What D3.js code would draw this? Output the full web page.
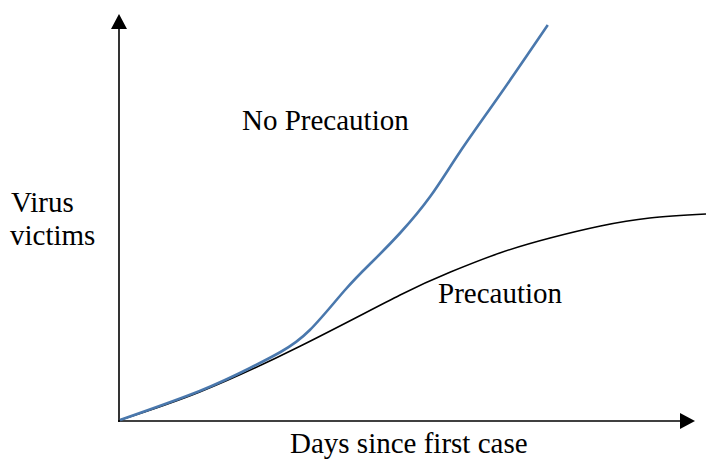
<!DOCTYPE html>
<html>
<head>
<meta charset="utf-8">
<script src="https://cdn.jsdelivr.net/npm/d3@7"></script>
<style>
  body { margin: 0; background: #fff; }
  text { font-family: "Liberation Serif", "Times New Roman", serif; fill: #000; }
</style>
</head>
<body>
<svg></svg>
<script>
const width = 706
const height = 461

// days since first case / victims (arbitrary units)
const noPrecDays = [0, 6.8, 11.1, 13.7, 16.2, 19.2, 21.5, 23.9, 26.5, 29, 32.4, 36.5]
const noPrecVals = [0, 7.25, 13, 17, 22.5, 32.5, 39.5, 46.75, 56, 67, 81.25, 98.75]
const precDays = [0, 6.8, 15.4, 23.9, 28.2, 32.4, 36.7, 41, 45.2, 50]
const precVals = [0, 7, 18.5, 31.25, 37, 41.75, 45.5, 48.5, 50.5, 51.5]

const svg = d3.select('svg')
    .attr('width', width)
    .attr('height', height)

const x = d3.scaleLinear().domain([0, 50]).range([120, 706])
const y = d3.scaleLinear().domain([0, 100]).range([420, 20])

svg.append('defs').append('marker')
    .attr('id', 'arrow')
    .attr('markerUnits', 'userSpaceOnUse')
    .attr('viewBox', '0 0 15 16')
    .attr('refX', 0)
    .attr('refY', 8)
    .attr('markerWidth', 15)
    .attr('markerHeight', 16)
    .attr('orient', 'auto')
    .append('path')
    .attr('d', 'M0,0L15,8L0,16Z')
    .attr('fill', '#000')

// axes
svg.append('line')
    .attr('x1', x(0) - 2).attr('y1', y(0) + 1)
    .attr('x2', 680).attr('y2', y(0) + 1)
    .attr('stroke', '#000').attr('stroke-width', 1.6)
    .attr('marker-end', 'url(#arrow)')
svg.append('line')
    .attr('x1', x(0) - 1).attr('y1', y(0) + 2)
    .attr('x2', x(0) - 1).attr('y2', 29)
    .attr('stroke', '#000').attr('stroke-width', 1.6)
    .attr('marker-end', 'url(#arrow)')

const line = d3.line()
    .x(d => x(d[0]))
    .y(d => y(d[1]))
    .curve(d3.curveNatural)

svg.append('path')
    .datum(d3.zip(precDays, precVals))
    .attr('d', line)
    .attr('fill', 'none')
    .attr('stroke', '#000')
    .attr('stroke-width', 1.5)

svg.append('path')
    .datum(d3.zip(noPrecDays, noPrecVals))
    .attr('d', line)
    .attr('fill', 'none')
    .attr('stroke', '#4a78ad')
    .attr('stroke-width', 2.6)

const labels = [
    { t: 'No Precaution', x: 242, y: 130 },
    { t: 'Precaution', x: 438, y: 303 },
    { t: 'Virus', x: 11, y: 212 },
    { t: 'victims', x: 10, y: 245 },
    { t: 'Days since first case', x: 290, y: 453 }
]
svg.selectAll('text.lbl')
    .data(labels)
    .enter()
    .append('text')
    .attr('class', 'lbl')
    .attr('x', d => d.x)
    .attr('y', d => d.y)
    .attr('font-size', 29)
    .text(d => d.t)
</script>
</body>
</html>
